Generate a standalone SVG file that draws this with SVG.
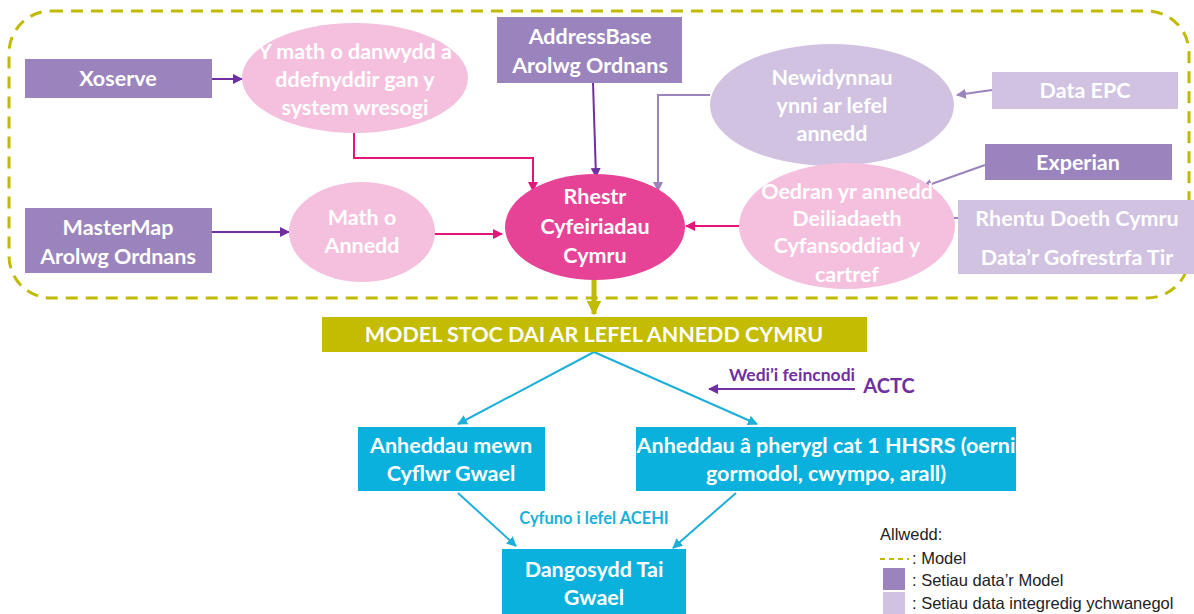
<svg xmlns="http://www.w3.org/2000/svg" width="1194" height="614" viewBox="0 0 1194 614">
<defs>
<style>
.t{font-family:Lato,"Open Sans","Liberation Sans",sans-serif;font-weight:bold;fill:#fff;text-anchor:middle;font-size:21.5px}
.dk{fill:#9b84bd}
.lt{fill:#d0c2e0}
.pk{fill:#f5c0dd}
.mg{fill:#e64396}
.bl{fill:#0ab1dc}
.ln{fill:none;stroke-width:2}
.leg{font-family:"Liberation Sans",Arial,sans-serif;font-size:16.5px;fill:#222}
</style>
<marker id="aP" viewBox="0 0 10 10" refX="9" refY="5" markerWidth="5" markerHeight="5" orient="auto"><path d="M0,0 L10,5 L0,10 z" fill="#7030a0"/></marker>
<marker id="aL" viewBox="0 0 10 10" refX="9" refY="5" markerWidth="5" markerHeight="5" orient="auto"><path d="M0,0 L10,5 L0,10 z" fill="#9b84bd"/></marker>
<marker id="aM" viewBox="0 0 10 10" refX="9" refY="5" markerWidth="5" markerHeight="5" orient="auto"><path d="M0,0 L10,5 L0,10 z" fill="#e6157a"/></marker>
<marker id="aB" viewBox="0 0 10 10" refX="9" refY="5" markerWidth="5" markerHeight="5" orient="auto"><path d="M0,0 L10,5 L0,10 z" fill="#1cb0d8"/></marker>
<marker id="aO" viewBox="0 0 10 10" refX="9" refY="5" markerWidth="3" markerHeight="3" orient="auto"><path d="M0,0 L10,5 L0,10 z" fill="#c0bb00"/></marker>
</defs>
<rect width="1194" height="614" fill="#fff"/>
<rect id="model-boundary" x="9" y="11" width="1180" height="287" rx="42" fill="none" stroke="#c0bb00" stroke-width="3" stroke-dasharray="12 8"/>

<g id="connectors">
<line class="ln" x1="212" y1="79" x2="242" y2="79" stroke="#7030a0" marker-end="url(#aP)"/>
<polyline class="ln" points="354,130 354,158 533,158 533,191" stroke="#e6157a" marker-end="url(#aM)"/>
<line class="ln" x1="593" y1="83" x2="596" y2="177" stroke="#7030a0" marker-end="url(#aP)"/>
<polyline class="ln" points="710,95 658,95 658,191" stroke="#9b84bd" marker-end="url(#aL)"/>
<line class="ln" x1="992" y1="90" x2="957" y2="95" stroke="#9b84bd" marker-end="url(#aL)"/>
<line class="ln" x1="985" y1="165" x2="923" y2="187" stroke="#9b84bd" marker-end="url(#aL)"/>
<line class="ln" x1="966" y1="218" x2="890" y2="218" stroke="#9b84bd" marker-end="url(#aL)"/>
<line class="ln" x1="739" y1="226" x2="686" y2="226" stroke="#e6157a" marker-end="url(#aM)"/>
<line class="ln" x1="434" y1="234" x2="502" y2="234" stroke="#e6157a" marker-end="url(#aM)"/>
<line class="ln" x1="212" y1="232" x2="289" y2="232" stroke="#7030a0" marker-end="url(#aP)"/>
<line x1="594" y1="279" x2="594" y2="314" stroke="#c0bb00" stroke-width="5" marker-end="url(#aO)"/>
<line class="ln" x1="594" y1="352" x2="458" y2="424" stroke="#1cb0d8" marker-end="url(#aB)"/>
<line class="ln" x1="594" y1="352" x2="757" y2="424" stroke="#1cb0d8" marker-end="url(#aB)"/>
<line class="ln" x1="458" y1="493" x2="516" y2="546" stroke="#1cb0d8" marker-end="url(#aB)"/>
<line class="ln" x1="736" y1="493" x2="673" y2="548" stroke="#1cb0d8" marker-end="url(#aB)"/>
<line class="ln" x1="855" y1="389" x2="709" y2="389" stroke="#7030a0" marker-end="url(#aP)"/>
</g>

<g id="xoserve"><rect class="dk" x="25" y="59" width="187" height="39"/><text class="t" x="118" y="86">Xoserve</text></g>
<g id="fuel-type"><ellipse class="pk" cx="355" cy="78" rx="113" ry="55"/>
<text class="t" x="355" y="59">Y math o danwydd a</text><text class="t" x="355" y="87">ddefnyddir gan y</text><text class="t" x="355" y="115">system wresogi</text></g>
<g id="addressbase"><rect class="dk" x="497" y="17" width="185" height="66"/><text class="t" x="590" y="44">AddressBase</text><text class="t" x="590" y="73">Arolwg Ordnans</text></g>
<g id="energy-vars"><ellipse class="lt" cx="832" cy="105" rx="122" ry="61"/>
<text class="t" x="832" y="85">Newidynnau</text><text class="t" x="832" y="113">ynni ar lefel</text><text class="t" x="832" y="141">annedd</text></g>
<g id="data-epc"><rect class="lt" x="992" y="72" width="186" height="37"/><text class="t" x="1085" y="98">Data EPC</text></g>
<g id="experian"><rect class="dk" x="985" y="144" width="187" height="36"/><text class="t" x="1078" y="170">Experian</text></g>
<g id="rent-land"><rect class="lt" x="958" y="200" width="236" height="74"/><text class="t" x="1077" y="226">Rhentu Doeth Cymru</text><text class="t" x="1077" y="265">Data’r Gofrestrfa Tir</text></g>
<g id="age-tenure"><ellipse class="pk" cx="847" cy="226" rx="108" ry="63"/>
<text class="t" x="847" y="199">Oedran yr annedd</text><text class="t" x="847" y="226">Deiliadaeth</text><text class="t" x="847" y="253">Cyfansoddiad y</text><text class="t" x="847" y="282">cartref</text></g>
<g id="address-list"><ellipse class="mg" cx="595" cy="227" rx="90" ry="53"/>
<text class="t" x="595" y="204">Rhestr</text><text class="t" x="595" y="234">Cyfeiriadau</text><text class="t" x="595" y="263">Cymru</text></g>
<g id="mastermap"><rect class="dk" x="25" y="208" width="187" height="65"/><text class="t" x="118" y="235">MasterMap</text><text class="t" x="118" y="264">Arolwg Ordnans</text></g>
<g id="dwelling-type"><ellipse class="pk" cx="362" cy="232" rx="73" ry="50"/><text class="t" x="362" y="225">Math o</text><text class="t" x="362" y="253">Annedd</text></g>

<g id="model"><rect x="322" y="317" width="545" height="35" fill="#c3bc00"/><text class="t" x="594" y="342" font-size="20.5">MODEL STOC DAI AR LEFEL ANNEDD CYMRU</text></g>
<g id="benchmark"><text x="792" y="381" font-family="Lato,'Liberation Sans',sans-serif" font-weight="bold" font-size="17.5" fill="#7030a0" text-anchor="middle">Wedi’i feincnodi</text>
<text x="889" y="393" font-family="Lato,'Liberation Sans',sans-serif" font-weight="bold" font-size="20" fill="#7030a0" text-anchor="middle">ACTC</text></g>
<g id="poor-condition"><rect class="bl" x="358" y="427" width="187" height="64"/><text class="t" x="451" y="453">Anheddau mewn</text><text class="t" x="451" y="481">Cyflwr Gwael</text></g>
<g id="hhsrs"><rect class="bl" x="636" y="427" width="380" height="64"/><text class="t" x="826" y="453">Anheddau â pherygl cat 1 HHSRS (oerni</text><text class="t" x="826" y="481">gormodol, cwympo, arall)</text></g>
<text x="594" y="524" font-family="Lato,'Liberation Sans',sans-serif" font-weight="bold" font-size="16.5" fill="#1cb0d8" text-anchor="middle">Cyfuno i lefel ACEHI</text>
<g id="poor-housing"><rect class="bl" x="502" y="549" width="184" height="65"/><text class="t" x="594" y="577">Dangosydd Tai</text><text class="t" x="594" y="605">Gwael</text></g>

<g id="legend">
<text class="leg" x="880" y="540">Allwedd:</text>
<line x1="880" y1="559" x2="909" y2="559" stroke="#c0bb00" stroke-width="2" stroke-dasharray="5 4"/>
<text class="leg" x="912" y="564">: Model</text>
<rect class="dk" x="883" y="568" width="22" height="22"/>
<rect class="lt" x="883" y="592" width="22" height="22"/>
<text class="leg" x="912" y="586">: Setiau data’r Model</text>
<text class="leg" x="912" y="609">: Setiau data integredig ychwanegol</text>
</g>
</svg>
